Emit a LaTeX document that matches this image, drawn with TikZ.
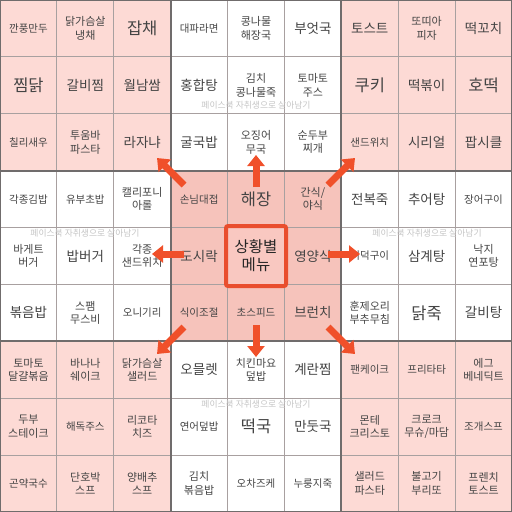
\documentclass[tikz,border=0pt]{standalone}
\usepackage{fontspec}
\setmainfont{Noto Sans CJK KR}
\usetikzlibrary{arrows.meta}
\definecolor{pinkc}{HTML}{FDDAD5}
\definecolor{pinkm}{HTML}{F6C3BB}
\definecolor{pinkctr}{HTML}{F9C8C1}
\definecolor{redc}{HTML}{E94E2E}
\definecolor{arr}{HTML}{F0502A}
\definecolor{txt}{HTML}{444444}
\definecolor{thinln}{HTML}{A8A0A0}
\definecolor{thickln}{HTML}{706C6C}
\definecolor{wm}{HTML}{C4C4C4}
\tikzset{
  cellS/.style={text=txt,font=\fontsize{10.5}{12}\selectfont,align=center,inner sep=0pt},
  cellM/.style={text=txt,font=\fontsize{13.5}{15}\selectfont,align=center,inner sep=0pt},
  cellL/.style={text=txt,font=\fontsize{16.5}{18}\selectfont,align=center,inner sep=0pt},
  cellT/.style={text=txt,font=\fontsize{11}{13.5}\selectfont,align=center,inner sep=0pt},
  ctrtxt/.style={text=black!85,font=\fontsize{15.5}{18}\selectfont,align=center,inner sep=0pt},
  wmark/.style={text=wm,font=\fontsize{8.8}{10}\selectfont,inner sep=0pt},
  bigarrow/.style={draw=arr,line width=7pt,-{Triangle[width=17pt,length=11pt]}},
}
\newcommand{\cel}[4]{\node[#3] (n-#1-#2) at ({(#2+0.5)*56.889},{(#1+0.5)*56.889}) {#4};}
\begin{document}
\begin{tikzpicture}[x=1pt,y=-1pt]
\useasboundingbox (0,0) rectangle (512,512);
% block fills
\fill[pinkc] (0,0) rectangle (170.67,170.67);
\fill[pinkc] (341.33,0) rectangle (512,170.67);
\fill[pinkc] (0,341.33) rectangle (170.67,512);
\fill[pinkc] (341.33,341.33) rectangle (512,512);
\fill[pinkm] (170.67,170.67) rectangle (341.33,341.33);
\fill[pinkctr] (227.56,227.56) rectangle (284.44,284.44);
% thin lines
\foreach \i in {1,2,4,5,7,8}{
  \draw[thinln,line width=0.8pt] ({\i*56.889},0) -- ({\i*56.889},512);
  \draw[thinln,line width=0.8pt] (0,{\i*56.889}) -- (512,{\i*56.889});
}
% thick lines
\foreach \i in {170.67,341.33}{
  \draw[thickln,line width=1.8pt] (\i,0) -- (\i,512);
  \draw[thickln,line width=1.8pt] (0,\i) -- (512,\i);
}
\draw[thickln,line width=1.5pt] (0,0) rectangle (512,512);
% center cell border
\draw[redc,line width=4pt,rounded corners=2pt] (226,226) rectangle (286,286);
% row 0
\cel{0}{0}{cellS}{깐풍만두}
\cel{0}{1}{cellT}{닭가슴살\\냉채}
\cel{0}{2}{cellL}{잡채}
\cel{0}{3}{cellS}{대파라면}
\cel{0}{4}{cellT}{콩나물\\해장국}
\cel{0}{5}{cellM}{부엇국}
\cel{0}{6}{cellM}{토스트}
\cel{0}{7}{cellT}{또띠아\\피자}
\cel{0}{8}{cellM}{떡꼬치}
% row 1
\cel{1}{0}{cellL}{찜닭}
\cel{1}{1}{cellM}{갈비찜}
\cel{1}{2}{cellM}{월남쌈}
\cel{1}{3}{cellM}{홍합탕}
\cel{1}{4}{cellT}{김치\\콩나물죽}
\cel{1}{5}{cellT}{토마토\\주스}
\cel{1}{6}{cellL}{쿠키}
\cel{1}{7}{cellM}{떡볶이}
\cel{1}{8}{cellL}{호떡}
% row 2
\cel{2}{0}{cellS}{칠리새우}
\cel{2}{1}{cellT}{투움바\\파스타}
\cel{2}{2}{cellM}{라자냐}
\cel{2}{3}{cellM}{굴국밥}
\cel{2}{4}{cellT}{오징어\\무국}
\cel{2}{5}{cellT}{순두부\\찌개}
\cel{2}{6}{cellS}{샌드위치}
\cel{2}{7}{cellM}{시리얼}
\cel{2}{8}{cellM}{팝시클}
% row 3
\cel{3}{0}{cellS}{각종김밥}
\cel{3}{1}{cellS}{유부초밥}
\cel{3}{2}{cellT}{캘리포니\\아롤}
\cel{3}{3}{cellS}{손님대접}
\cel{3}{4}{cellL}{해장}
\cel{3}{5}{cellT}{간식/\\야식}
\cel{3}{6}{cellM}{전복죽}
\cel{3}{7}{cellM}{추어탕}
\cel{3}{8}{cellS}{장어구이}
% row 4
\cel{4}{0}{cellT}{바게트\\버거}
\cel{4}{1}{cellM}{밥버거}
\cel{4}{2}{cellT}{각종\\샌드위치}
\cel{4}{3}{cellM}{도시락}
\cel{4}{4}{ctrtxt}{상황별\\메뉴}
\cel{4}{5}{cellM}{영양식}
\cel{4}{6}{cellS}{더덕구이}
\cel{4}{7}{cellM}{삼계탕}
\cel{4}{8}{cellT}{낙지\\연포탕}
% row 5
\cel{5}{0}{cellM}{볶음밥}
\cel{5}{1}{cellT}{스팸\\무스비}
\cel{5}{2}{cellS}{오니기리}
\cel{5}{3}{cellS}{식이조절}
\cel{5}{4}{cellS}{초스피드}
\cel{5}{5}{cellM}{브런치}
\cel{5}{6}{cellT}{훈제오리\\부추무침}
\cel{5}{7}{cellL}{닭죽}
\cel{5}{8}{cellM}{갈비탕}
% row 6
\cel{6}{0}{cellT}{토마토\\달걀볶음}
\cel{6}{1}{cellT}{바나나\\쉐이크}
\cel{6}{2}{cellT}{닭가슴살\\샐러드}
\cel{6}{3}{cellM}{오믈렛}
\cel{6}{4}{cellT}{치킨마요\\덮밥}
\cel{6}{5}{cellM}{계란찜}
\cel{6}{6}{cellS}{팬케이크}
\cel{6}{7}{cellS}{프리타타}
\cel{6}{8}{cellT}{에그\\베네딕트}
% row 7
\cel{7}{0}{cellT}{두부\\스테이크}
\cel{7}{1}{cellS}{해독주스}
\cel{7}{2}{cellT}{리코타\\치즈}
\cel{7}{3}{cellS}{연어덮밥}
\cel{7}{4}{cellL}{떡국}
\cel{7}{5}{cellM}{만둣국}
\cel{7}{6}{cellT}{몬테\\크리스토}
\cel{7}{7}{cellT}{크로크\\무슈/마담}
\cel{7}{8}{cellS}{조개스프}
% row 8
\cel{8}{0}{cellS}{곤약국수}
\cel{8}{1}{cellT}{단호박\\스프}
\cel{8}{2}{cellT}{양배추\\스프}
\cel{8}{3}{cellT}{김치\\볶음밥}
\cel{8}{4}{cellS}{오차즈케}
\cel{8}{5}{cellS}{누룽지죽}
\cel{8}{6}{cellT}{샐러드\\파스타}
\cel{8}{7}{cellT}{불고기\\부리또}
\cel{8}{8}{cellT}{프렌치\\토스트}
% watermarks
\node[wmark] (wm-t) at (256,105) {페이스북 자취생으로 살아남기};
\node[wmark] (wm-l) at (85,233) {페이스북 자취생으로 살아남기};
\node[wmark] (wm-r) at (427,233) {페이스북 자취생으로 살아남기};
\node[wmark] (wm-b) at (256,404) {페이스북 자취생으로 살아남기};
% arrow ends
\coordinate (aN0) at (256,187); \coordinate (aN1) at (256,155);
\coordinate (aS0) at (256,325); \coordinate (aS1) at (256,357);
\coordinate (aW0) at (184,254); \coordinate (aW1) at (152,254);
\coordinate (aE0) at (328,254); \coordinate (aE1) at (360,254);
\coordinate (aNW0) at (184,185); \coordinate (aNW1) at (157,158);
\coordinate (aNE0) at (328,185); \coordinate (aNE1) at (355,158);
\coordinate (aSW0) at (184,327); \coordinate (aSW1) at (157,354);
\coordinate (aSE0) at (328,327); \coordinate (aSE1) at (355,354);
\foreach \d in {N,S,W,E,NW,NE,SW,SE}{
  \draw[bigarrow] (a\d0) -- (a\d1);
}
\end{tikzpicture}
\end{document}
